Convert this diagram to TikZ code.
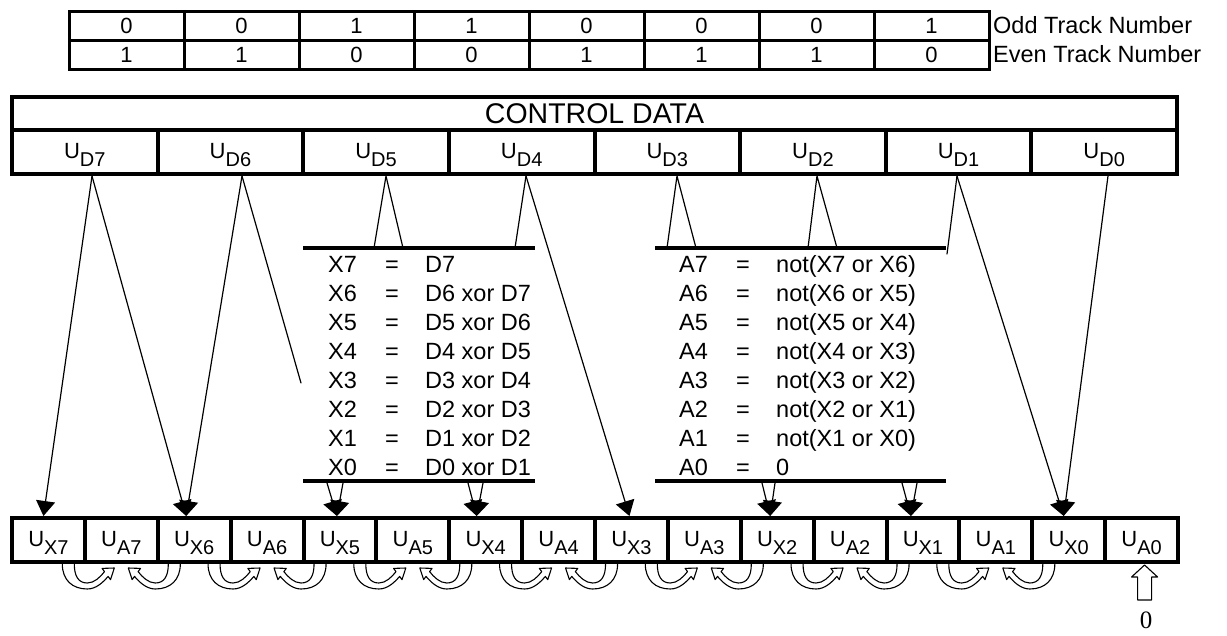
\documentclass[tikz,border=0pt]{standalone}
\usepackage{fontspec}
\setmainfont{Liberation Sans}
\newfontfamily\zerofont{Liberation Serif}
\usetikzlibrary{arrows.meta,calc}
\tikzset{
  tabcell/.style={draw, line width=3pt, minimum width=115pt, minimum height=29pt, inner sep=0pt, outer sep=0pt, font=\fontsize{22}{22}\selectfont},
  tablab/.style={anchor=west, inner sep=0pt, font=\fontsize{23.5}{24}\selectfont},
  ctrlbox/.style={draw, line width=4pt, inner sep=0pt, outer sep=0pt},
  ucell/.style={ctrlbox, text height=16pt, text depth=4pt, minimum height=44pt, font=\fontsize{22}{22}\selectfont},
  eq/.style={inner sep=0pt, font=\fontsize{23.5}{24}\selectfont},
  link/.style={draw, line width=1.2pt, line cap=round},
  tohead/.style={-{Triangle[width=19pt,length=15pt]}},
  blockline/.style={draw, line width=3.5pt},
  bendarm/.pic={
    \draw[line width=1.1pt, line join=round] (0,0) .. controls (0,16) and (10,25) .. (25,25)
      .. controls (34,25) and (41,18) .. (45.8,12.4) -- (48.2,15.6) -- (52,4) -- (39.8,4.4) -- (42.2,7.6)
      .. controls (38,13) and (32,19) .. (25,19) .. controls (16,19) and (12,12) .. (12,0);
  },
}
\newcommand{\usub}[1]{U\raisebox{-8pt}{\fontsize{20}{20}\selectfont #1}}

\begin{document}
\begin{tikzpicture}[x=1pt, y=-1pt]
  \useasboundingbox (0,0) rectangle (1227,635);

  % track number table
  \foreach \o/\e [count=\i from 0] in {0/1, 0/1, 1/0, 1/0, 0/1, 0/1, 0/1, 1/0} {
    \node[tabcell] (odd\i) at ({126.5+115*\i},25.5) {\o};
    \node[tabcell] (even\i) at ({126.5+115*\i},54.5) {\e};
  }
  \node[tablab] (oddlab) at (993,25.5) {Odd Track Number};
  \node[tablab] (evenlab) at (993,54.5) {Even Track Number};

  % control data
  \node[ctrlbox, minimum width=1165pt, minimum height=33pt, font=\fontsize{28.5}{28}\selectfont] (ctrl) at (594.5,113.5) {CONTROL DATA};
  \foreach \k in {0,...,7} {
    \pgfmathtruncatemacro\d{7-\k}
    \node[ucell, minimum width=145.625pt] (ud\d) at ({12+145.625*(\k+0.5)},152) {\usub{D\d}};
  }

  % registers
  \foreach \i in {7,...,0} {
    \pgfmathsetmacro\cx{12+72.875*(2*(7-\i)+0.5)}
    \node[ucell, minimum width=72.875pt] (ux\i) at (\cx,540) {\usub{X\i}};
    \node[ucell, minimum width=72.875pt] (ua\i) at (\cx+72.875,540) {\usub{A\i}};
  }

  % equation blocks
  \coordinate (ltl) at (303,248);
  \coordinate (ltr) at (535,248);
  \coordinate (lbl) at (303,481);
  \coordinate (lbr) at (535,481);
  \coordinate (rtl) at (655,248);
  \coordinate (rtr) at (946,248);
  \coordinate (rbl) at (655,481);
  \coordinate (rbr) at (946,481);
  \draw[blockline] (ltl) -- (ltr);
  \draw[blockline] (lbl) -- (lbr);
  \draw[blockline] (rtl) -- (rtr);
  \draw[blockline] (rbl) -- (rbr);
  \foreach \n/\rhs [count=\r from 0] in {7/D7, 6/D6 xor D7, 5/D5 xor D6, 4/D4 xor D5, 3/D3 xor D4, 2/D2 xor D3, 1/D1 xor D2, 0/D0 xor D1} {
    \node[eq, anchor=base west] (xn\n) at (328,{272+29*\r}) {X\n};
    \node[eq, anchor=base] (xe\n) at (392,{272+29*\r}) {=};
    \node[eq, anchor=base west] (xr\n) at (425,{272+29*\r}) {\rhs};
  }
  \foreach \n/\rhs [count=\r from 0] in {7/not(X7 or X6), 6/not(X6 or X5), 5/not(X5 or X4), 4/not(X4 or X3), 3/not(X3 or X2), 2/not(X2 or X1), 1/not(X1 or X0), 0/0} {
    \node[eq, anchor=base west] (an\n) at (679,{272+29*\r}) {A\n};
    \node[eq, anchor=base] (ae\n) at (743,{272+29*\r}) {=};
    \node[eq, anchor=base west] (ar\n) at (776,{272+29*\r}) {\rhs};
  }

  % apex points under the control bytes
  \coordinate (a7) at (92,176);
  \coordinate (a6) at (242,176);
  \coordinate (a5) at (386,176);
  \coordinate (a4) at (526,176);
  \coordinate (a3) at (677,176);
  \coordinate (a2) at (817,176);
  \coordinate (a1) at (957,176);
  \coordinate (a0) at (1108,176);
  % free ends
  \coordinate (e6) at (301,383);
  \coordinate (e5l) at (374,248);
  \coordinate (e5r) at (403,248);
  \coordinate (e4) at (515,248);
  \coordinate (e3l) at (667,248);
  \coordinate (e3r) at (696,248);
  \coordinate (e2l) at (808,248);
  \coordinate (e2r) at (837,248);
  \coordinate (e1) at (947,254);
  \coordinate (b5l) at (327,483);
  \coordinate (b5r) at (343,483);
  \coordinate (b4l) at (468,483);
  \coordinate (b4r) at (483,483);
  \coordinate (b2l) at (762,483);
  \coordinate (b2r) at (775,483);
  \coordinate (b1l) at (902,483);
  \coordinate (b1r) at (917,483);
  % arrow tips on the registers
  \coordinate (t7) at ($(ux7.north)+(-5,-2)$);
  \coordinate (t6) at ($(ux6.north)+(-8,-2)$);
  \coordinate (t5) at ($(ux5.north)+(-3,-2)$);
  \coordinate (t4) at ($(ux4.north)+(-9,-2)$);
  \coordinate (t3) at ($(ux3.north)+(-2,-2)$);
  \coordinate (t2) at ($(ux2.north)+(-7,-2)$);
  \coordinate (t1) at ($(ux1.north)+(-12,-2)$);
  \coordinate (t0) at ($(ux0.north)+(-5,-2)$);

  \draw[link,tohead] (a7) -- (t7);
  \draw[link,tohead] (a7) -- (t6);
  \draw[link,tohead] (a6) -- (t6);
  \draw[link] (a6) -- (e6);
  \draw[link] (e5l) -- (a5) -- (e5r);
  \draw[link] (e4) -- (a4);
  \draw[link,tohead] (a4) -- (t3);
  \draw[link] (e3l) -- (a3) -- (e3r);
  \draw[link] (e2l) -- (a2) -- (e2r);
  \draw[link] (e1) -- (a1);
  \draw[link,tohead] (a1) -- (t0);
  \draw[link,tohead] (a0) -- (t0);
  \draw[link,tohead] (b5l) -- (t5);
  \draw[link,tohead] (b5r) -- (t5);
  \draw[link,tohead] (b4l) -- (t4);
  \draw[link,tohead] (b4r) -- (t4);
  \draw[link,tohead] (b2l) -- (t2);
  \draw[link,tohead] (b2r) -- (t2);
  \draw[link,tohead] (b1l) -- (t1);
  \draw[link,tohead] (b1r) -- (t1);

  % feedback arrows under the registers
  \foreach \i in {7,...,1} {
    \pic at ($(ua\i.south)+(-59,2)$) {bendarm};
    \pic[xscale=-1] at ($(ua\i.south)+(59,2)$) {bendarm};
  }

  % constant input
  \coordinate (z) at ($(ua0.south)+(3,3)$);
  \draw[line width=1.1pt, line join=round] (z) -- ++(13,12) -- ++(-6,0) -- ++(0,23) -- ++(-14,0) -- ++(0,-23) -- ++(-6,0) -- cycle;
  \node[font=\zerofont\fontsize{25}{25}\selectfont, inner sep=0pt] (zero) at (1146,620) {0};
\end{tikzpicture}
\end{document}
